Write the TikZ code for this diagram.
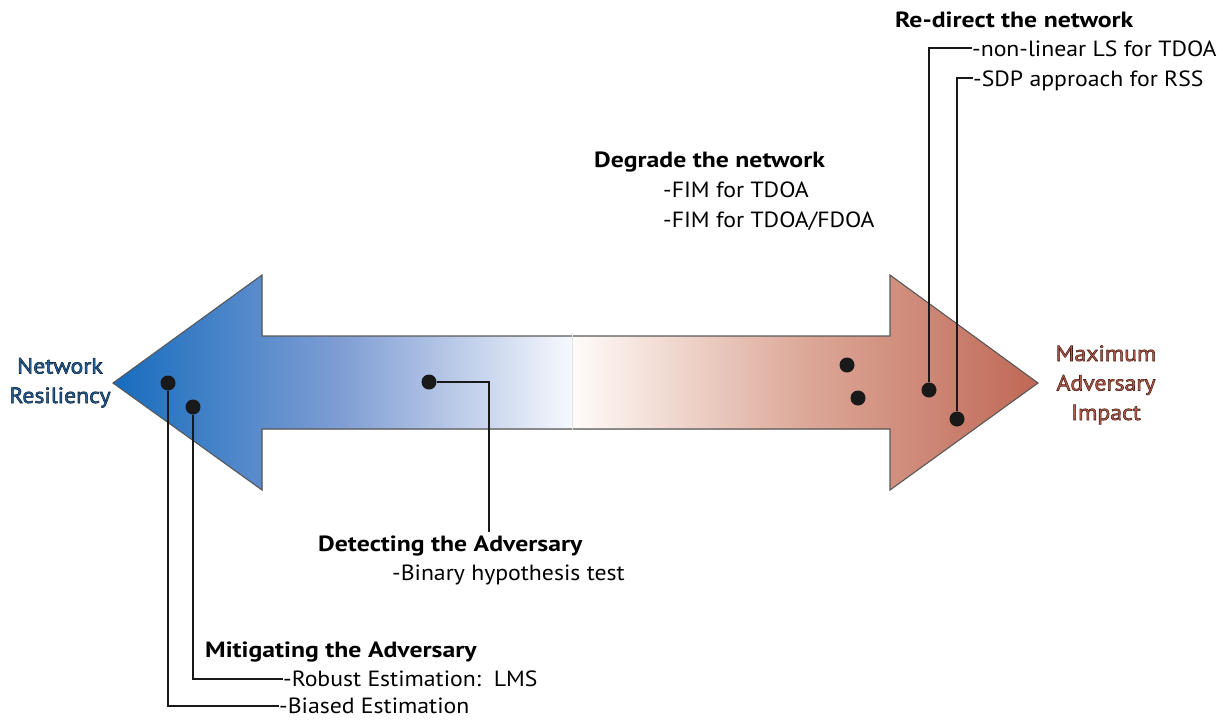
\documentclass[tikz,border=0pt]{standalone}
\usepackage{fontspec}
\setmainfont{PT Sans}[UprightFeatures={FakeStretch=1.08}, BoldFeatures={FakeStretch=1.17}]
\definecolor{tipblue}{RGB}{22,108,190}
\definecolor{midblue}{RGB}{128,158,212}
\definecolor{paleblue}{RGB}{246,248,253}
\definecolor{palered}{RGB}{255,251,248}
\definecolor{midred}{RGB}{220,168,152}
\definecolor{tipred}{RGB}{192,104,86}
\definecolor{netblue}{RGB}{34,96,150}
\definecolor{impactred}{RGB}{176,92,76}
% text filled in the current colour and stroked with a thin dark outline
\newcommand{\strokedtext}[2]{%
  \special{pdf:literal direct #1 RG 0.55 w 2 Tr}#2\special{pdf:literal direct 0 Tr}}
\begin{document}
\begin{tikzpicture}[x=1pt,y=-1pt,
  lbl/.style={inner sep=0pt, anchor=base west, font=\fontsize{22}{30}\selectfont},
  head/.style={lbl, font=\fontsize{22}{30}\selectfont\bfseries},
  endlbl/.style={inner sep=0pt, anchor=base, align=center, font=\fontsize{22}{29.5}\selectfont},
  dot/.style={circle, fill=black!90, inner sep=0pt, minimum size=15pt},
  lead/.style={line width=1.8pt, black!90},
  rim/.style={draw=black!65, line width=1.1pt, line join=miter}]
\useasboundingbox (0,0) rectangle (1223,721);

% two half-arrows meeting in the middle
\fill[left color=tipblue, right color=paleblue, middle color=midblue]
  (113,383) -- (262,275) -- (262,336) -- (572,336) -- (572,429) -- (262,429) -- (262,490) -- cycle;
\fill[left color=palered, right color=tipred, middle color=midred]
  (573,336) -- (890,336) -- (890,275) -- (1038,383) -- (890,490) -- (890,429) -- (573,429) -- cycle;
\draw[rim] (572,336) -- (262,336) -- (262,275) -- (113,383) -- (262,490) -- (262,429) -- (572,429);
\draw[rim] (573,336) -- (890,336) -- (890,275) -- (1038,383) -- (890,490) -- (890,429) -- (573,429);

% end labels (anchored at the baseline of the last line)
\node[endlbl, text=netblue] (resil) at (60,403)
  {\strokedtext{0.06 0.14 0.24}{Network\\Resiliency}};
\node[endlbl, text=impactred] (impact) at (1106,420)
  {\strokedtext{0.30 0.12 0.09}{Maximum\\Adversary\\Impact}};

% text blocks
\node[head] (redirect) at (895,27) {Re-direct the network};
\node[lbl] (nonlin) at (972,56) {-non-linear LS for TDOA};
\node[lbl] (sdp) at (973,86) {-SDP approach for RSS};
\node[head] (degrade) at (594,167) {Degrade the network};
\node[lbl] (fim1) at (663,197) {-FIM for TDOA};
\node[lbl] (fim2) at (663,227) {-FIM for TDOA/FDOA};
\node[head] (detect) at (318,551) {Detecting the Adversary};
\node[lbl] (binary) at (392,580) {-Binary hypothesis test};
\node[head] (mitigate) at (205,657) {Mitigating the Adversary};
\node[lbl] (robust) at (283,686) {-Robust Estimation:\ \ LMS};
\node[lbl] (biased) at (279,713) {-Biased Estimation};

% markers on the arrow
\node[dot] (d1) at (168,383) {};
\node[dot] (d2) at (193,407) {};
\node[dot] (d3) at (429,382) {};
\node[dot] (d4) at (847,365) {};
\node[dot] (d5) at (858,398) {};
\node[dot] (d6) at (929,390) {};
\node[dot] (d7) at (957,419) {};

% leaders from markers to their labels
\coordinate (c3) at (489,532);
\draw[lead] (d1) |- ([yshift=7pt]biased.base west);
\draw[lead] (d2) |- ([yshift=7pt]robust.base west);
\draw[lead] (d3) -| (c3);
\draw[lead] (d6) |- ([yshift=8pt]nonlin.base west);
\draw[lead] (d7) |- ([yshift=8pt]sdp.base west);
\end{tikzpicture}
\end{document}
